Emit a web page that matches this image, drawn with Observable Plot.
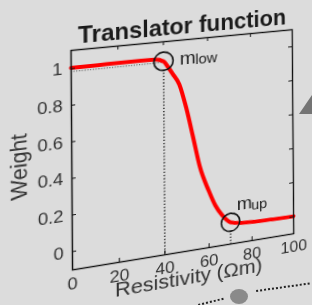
<!DOCTYPE html>
<html><head><meta charset="utf-8">
<script src="https://cdn.jsdelivr.net/npm/d3@7"></script>
<script src="https://cdn.jsdelivr.net/npm/@observablehq/plot@0.6"></script>
<style>
html,body{margin:0;padding:0;background:#dcdcdc;overflow:hidden;width:312px;height:305px;}
#chart{position:absolute;left:0;top:0;}
#chart svg{display:block;transform-origin:0 0;}
.deco{position:absolute;}
#tri{left:299px;top:95px;width:13px;height:19px;background:#747474;clip-path:polygon(0 100%,100% 0,100% 100%);}
#blob{left:230px;top:289px;width:18px;height:15px;border-radius:50%;background:#8a8a8a;}
#dotR{left:256px;top:290px;width:54px;height:0;border-top:2.5px dotted #222;transform:rotate(-8deg);transform-origin:0 0;}
#dotL{left:198px;top:304px;width:26px;height:0;border-top:2.5px dotted #222;transform:rotate(-14deg);transform-origin:0 0;}
</style></head><body><div id="chart"></div>
<div class="deco" id="tri"></div><div class="deco" id="blob"></div><div class="deco" id="dotR"></div><div class="deco" id="dotL"></div>
<script>
// ---- data ----
const resistivity = [0, 10, 20, 30, 36, 40, 42, 44, 47, 50, 53, 56, 60, 63, 66, 70, 75, 80, 90, 100];
const weight      = [1.005, 1.005, 1.006, 1.006, 1.004, 0.99, 0.955, 0.915, 0.85, 0.715, 0.545, 0.37, 0.225, 0.135, 0.075, 0.025, 0.012, 0.008, 0.004, 0.002];
const xTicks = [0, 20, 40, 60, 80, 100];
const yTicks = [0, 0.2, 0.4, 0.6, 0.8, 1];
const markerX = [40, 70];
const markerY = [0.99, 0.025];
const markerName = ["m", "m"];
const markerSub = ["low", "up"];
const refLevel = [0.985];
const titleText = "Translator function";
const xLabel = "Resistivity (Ωm)";
const yLabel = "Weight";

const curve = resistivity.map((x, i) => ({x, y: weight[i]}));
const markers = markerX.map((x, i) => ({x, y: markerY[i], name: markerName[i], sub: markerSub[i]}));
const yDomain = [-0.1, 1.1];

const W = 312, H = 320, mL = 71, mR = 20, mT = 50, mB = 50;
const fw = W - mL - mR, fh = H - mT - mB;
const font = "'Liberation Sans', Arial, sans-serif";

const svg = Plot.plot({
  width: W, height: H,
  marginLeft: mL, marginRight: mR, marginTop: mT, marginBottom: mB,
  style: {background: "transparent", fontFamily: font, fontSize: "17px", color: "#333", overflow: "visible"},
  x: {domain: [0, 100], ticks: xTicks, tickSize: 0, tickPadding: 7, label: null, tickFormat: d => String(d)},
  y: {domain: yDomain, ticks: yTicks, tickSize: 0, tickPadding: 8, label: null, tickFormat: d => String(d)},
  marks: [
    Plot.ruleY(refLevel, {y: d => d, x1: 0, x2: markerX[0], stroke: "#666", strokeWidth: 1.2, strokeDasharray: "1,1.6"}),
    Plot.ruleX(markers, {x: "x", y1: "y", y2: yDomain[0], insetTop: 9, stroke: "#111", strokeWidth: 1.3, strokeDasharray: "1.3,2"}),
    Plot.line(curve, {x: "x", y: "y", stroke: "#ff0000", strokeWidth: 4, curve: "monotone-x"}),
    Plot.dot(markers, {x: "x", y: "y", r: 9.5, stroke: "#111", strokeWidth: 1.6, fill: "none"}),
    Plot.text([markers[0]], {x: "x", y: "y", text: "name", dx: 16, dy: -1, textAnchor: "start", fontSize: 19, fill: "#222"}),
    Plot.text([markers[0]], {x: "x", y: "y", text: "sub", dx: 31.5, dy: 1.5, textAnchor: "start", fontSize: 15, fill: "#222"}),
    Plot.text([markers[1]], {x: "x", y: "y", text: "name", dx: 6.5, dy: -17.5, textAnchor: "start", fontSize: 19, fill: "#222"}),
    Plot.text([markers[1]], {x: "x", y: "y", text: "sub", dx: 21.5, dy: -14.5, textAnchor: "start", fontSize: 15, fill: "#222"}),
    Plot.tickY(yTicks, {y: d => d, insetRight: fw - 4, stroke: "#111"}),
    Plot.tickY(yTicks, {y: d => d, insetLeft: fw - 4, stroke: "#111"}),
    Plot.tickX(xTicks, {x: d => d, insetTop: fh - 4, stroke: "#111"}),
    Plot.tickX(xTicks, {x: d => d, insetBottom: fh - 4, stroke: "#111"}),
    Plot.frame({stroke: "#111", strokeWidth: 1.4}),
    Plot.text([titleText], {frameAnchor: "top", dy: -23, fontSize: 23, fontWeight: "bold", fill: "#1a1a1a"}),
    Plot.text([xLabel], {frameAnchor: "bottom", dx: 3, dy: 34, fontSize: 21, fill: "#333"}),
    Plot.text([yLabel], {frameAnchor: "left", textAnchor: "middle", dx: -48, rotate: -90, fontSize: 21, fill: "#333"})
  ]
});
document.getElementById("chart").appendChild(svg);

// perspective of the photographed panel: flat frame -> tilted quadrilateral
function squareToQuad(p) {
  const [[x0,y0],[x1,y1],[x2,y2],[x3,y3]] = p;
  const dx1 = x1-x2, dx2 = x3-x2, dx3 = x0-x1+x2-x3;
  const dy1 = y1-y2, dy2 = y3-y2, dy3 = y0-y1+y2-y3;
  const den = dx1*dy2 - dx2*dy1;
  const g = (dx3*dy2 - dx2*dy3)/den;
  const h = (dx1*dy3 - dx3*dy1)/den;
  return [[x1-x0+g*x1, x3-x0+h*x3, x0], [y1-y0+g*y1, y3-y0+h*y3, y0], [g, h, 1]];
}
const quad = [[70.5, 50], [291.7, 29.3], [293.3, 233.3], [72, 269.5]];
const Hs = squareToQuad(quad);
const S = [[1/fw, 0, -mL/fw], [0, 1/fh, -mT/fh], [0, 0, 1]];
const M = Hs.map(r => [0,1,2].map(j => r[0]*S[0][j] + r[1]*S[1][j] + r[2]*S[2][j]));
svg.style.transform = `matrix3d(${M[0][0]},${M[1][0]},0,${M[2][0]},${M[0][1]},${M[1][1]},0,${M[2][1]},0,0,1,0,${M[0][2]},${M[1][2]},0,${M[2][2]})`;
</script></body></html>
